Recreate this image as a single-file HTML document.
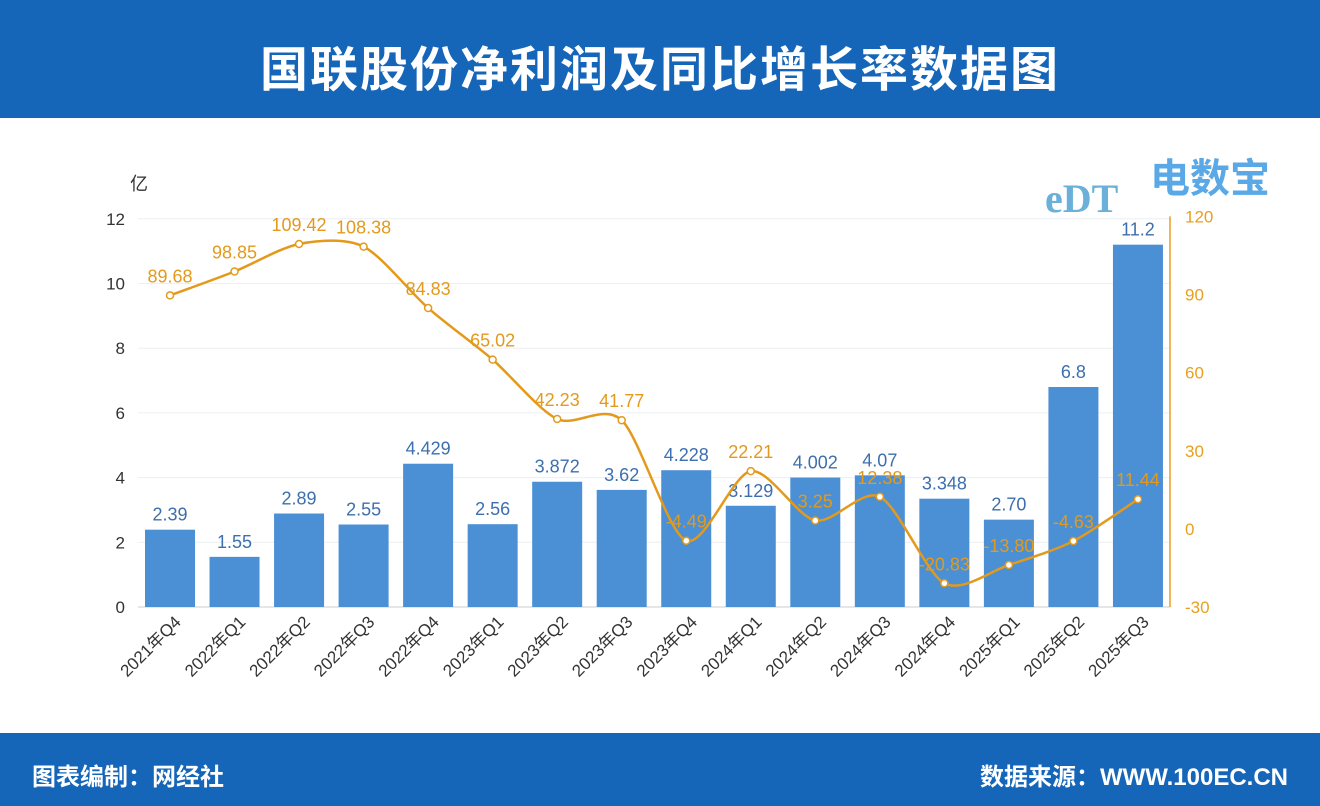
<!DOCTYPE html>
<html><head><meta charset="utf-8">
<style>
body{margin:0;width:1320px;height:806px;overflow:hidden;background:#fff;font-family:"Liberation Sans","Noto Sans CJK SC",sans-serif;}
#hdr{position:absolute;left:0;top:0;width:1320px;height:118px;background:#1565b8;}
#title{position:absolute;left:0;top:30px;width:1320px;text-align:center;color:#fff;font-size:48px;font-weight:bold;letter-spacing:2px;}
#ftr{position:absolute;left:0;top:733px;width:1320px;height:73px;background:#1565b8;color:#fff;font-weight:bold;font-size:24px;}
</style></head><body>
<div id="hdr"><div id="title">国联股份净利润及同比增长率数据图</div></div>
<svg id="chart" width="1320" height="615" style="position:absolute;left:0;top:118px"></svg>
<div id="ftr">
<span style="position:absolute;left:32px;top:24px">图表编制：网经社</span>
<span style="position:absolute;right:32px;top:24px">数据来源：WWW.100EC.CN</span>
</div>
<script>
const categories=["2021年Q4","2022年Q1","2022年Q2","2022年Q3","2022年Q4","2023年Q1","2023年Q2","2023年Q3","2023年Q4","2024年Q1","2024年Q2","2024年Q3","2024年Q4","2025年Q1","2025年Q2","2025年Q3"];
const profit=[2.39,1.55,2.89,2.55,4.429,2.56,3.872,3.62,4.228,3.129,4.002,4.07,3.348,2.70,6.8,11.2];
const profitLabels=["2.39","1.55","2.89","2.55","4.429","2.56","3.872","3.62","4.228","3.129","4.002","4.07","3.348","2.70","6.8","11.2"];
const growth=[89.68,98.85,109.42,108.38,84.83,65.02,42.23,41.77,-4.49,22.21,3.25,12.38,-20.83,-13.8,-4.63,11.44];
const leftTicks=[0,2,4,6,8,10,12];
const rightTicks=[-30,0,30,60,90,120];
const OY=-118;
const yL=v=>607+OY-v*32.35;
const yR=v=>529+OY-v*2.605;
const xC=i=>170+i*64.53;
const svg=document.getElementById('chart');
const NS='http://www.w3.org/2000/svg';
function mk(t,a,txt){const e=document.createElementNS(NS,t);for(const k in a)e.setAttribute(k,a[k]);if(txt!==undefined)e.textContent=txt;svg.appendChild(e);return e;}
leftTicks.forEach(v=>{
 const g=mk('line',{x1:138,x2:1170,y1:yL(v),y2:yL(v),stroke:v===0?'#ccc':'#eceff3','stroke-width':1});
 
 
 const t=mk('text',{x:125,y:yL(v)+6,'text-anchor':'end','font-size':17,fill:'#333'},String(v));
 
 
});
const u=mk('text',{x:130,y:190+OY,'font-size':18,fill:'#333'},'亿');


const ra=mk('line',{x1:1170,x2:1170,y1:yR(120),y2:yR(-30),stroke:'#e8a020','stroke-width':1.5});


rightTicks.forEach(v=>{
 const t=mk('text',{x:1185,y:yR(v)+6,'font-size':17,fill:'#e8a020'},String(v));
 
 
});
const lg=mk('text',{x:1150,y:192+OY,'font-size':40,'font-weight':'bold',fill:'#5aa9e6'},'电数宝');


const lc=mk('text',{x:1045,y:212+OY,'font-size':40,'font-weight':'bold',fill:'#6bb0d8','font-family':'Liberation Serif,serif'},'eDT');


categories.forEach((c,i)=>{
 const b=mk('rect',{x:xC(i)-25,y:yL(profit[i]),width:50,height:yL(0)-yL(profit[i]),fill:'#4b8fd5'});
 
 
 const l=mk('text',{x:xC(i),y:yL(profit[i])-9,'text-anchor':'middle','font-size':18,fill:'#3d6fae'},profitLabels[i]);
 
 
 const t=mk('text',{x:0,y:0,'text-anchor':'end','font-size':17,fill:'#333',transform:`translate(${xC(i)+12},${yL(0)+16}) rotate(-45)`},c);
 
 
});
const pts=growth.map((v,i)=>[xC(i),yR(v)]);
let d='M'+pts[0][0]+','+pts[0][1];
for(let i=0;i<pts.length-1;i++){
 const p0=pts[i-1]||pts[i],p1=pts[i],p2=pts[i+1],p3=pts[i+2]||p2,k=0.14;
 d+=` C${p1[0]+(p2[0]-p0[0])*k},${p1[1]+(p2[1]-p0[1])*k} ${p2[0]-(p3[0]-p1[0])*k},${p2[1]-(p3[1]-p1[1])*k} ${p2[0]},${p2[1]}`;
}
const ln=mk('path',{d:d,fill:'none',stroke:'#e39a1c','stroke-width':2.5});


growth.forEach((v,i)=>{
 const c=mk('circle',{cx:xC(i),cy:yR(v),r:3.5,fill:'#fff',stroke:'#e39a1c','stroke-width':1.5});
 
 
 const t=mk('text',{x:xC(i),y:yR(v)-13,'text-anchor':'middle','font-size':18,fill:'#e39a1c'},v.toFixed(2));
 
 
});
</script>
</body></html>
